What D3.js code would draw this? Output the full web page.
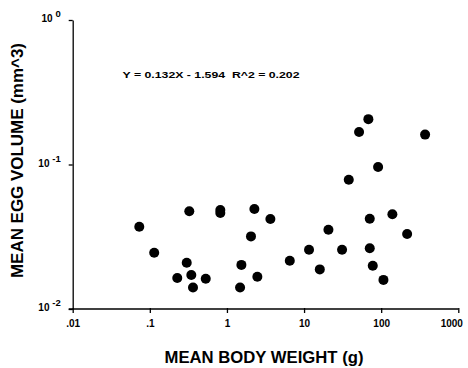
<!DOCTYPE html>
<head>
  <meta charset="utf-8">
  <script src="https://d3js.org/d3.v7.min.js"></script>
  <style>
    body { margin:0; background-color:#fff; }
    svg { display:block; }
    text { font-family: "Liberation Sans", Arial, Helvetica, sans-serif; font-weight:bold; fill:#000; }
    .axis path, .axis line { stroke:#000; stroke-width:1.3px; }
  </style>
</head>
<body>
<div class="chart-container"></div>
<script>
// data: body weight (g) vs egg volume (mm^3)
var bodyWeight = [0.073, 0.114, 0.325, 0.301, 0.227, 0.345, 0.531, 0.363, 0.821, 0.821,
  2.27, 3.66, 2.05, 1.54, 2.48, 1.48, 68.2, 51.7, 371, 91.2,
  38.0, 71.1, 139.7, 20.7, 217, 11.6, 31.1, 71.1, 6.53, 16.0, 77.8, 107];
var eggVolume = [0.0371, 0.0245, 0.0475, 0.0209, 0.0164, 0.0172, 0.0162, 0.0141, 0.0484, 0.0462,
  0.0492, 0.0420, 0.0318, 0.0202, 0.0167, 0.0141, 0.206, 0.168, 0.161, 0.0961,
  0.0785, 0.0421, 0.0452, 0.0354, 0.0330, 0.0257, 0.0257, 0.0263, 0.0216, 0.0188, 0.0199, 0.0159];
var xTicks = [0.01, 0.1, 1, 10, 100, 1000];
var xTickLabels = [".01", ".1", "1", "10", "100", "1000"];
var yTicks = [0.01, 0.1, 1];
var yTickExp = ["-2", "-1", "0"];
var equation = "Y = 0.132X - 1.594\u00a0\u00a0R^2 = 0.202";

var W = 468, H = 368;
var svg = d3.select(".chart-container").append("svg")
  .attr("width", W)
  .attr("height", H);

var x = d3.scaleLog().domain([0.01, 1000]).range([72.7, 458.3]);
var y = d3.scaleLog().domain([0.01, 1]).range([309, 20]);

var xAxis = d3.axisBottom(x)
  .tickValues(xTicks)
  .tickSizeInner(4)
  .tickSizeOuter(0)
  .tickFormat(function(d, i) { return xTickLabels[i]; });

var gx = svg.append("g")
  .attr("class", "axis")
  .attr("transform", "translate(0," + y(0.01) + ")")
  .call(xAxis);
gx.select(".domain").attr("d", "M" + (x(0.01) - 4) + ",0H" + x(1000));
gx.selectAll(".tick line").attr("y1", -1);
gx.selectAll(".tick text")
  .attr("y", 11)
  .attr("dy", "0.71em")
  .attr("dx", function(d, i) { return i == xTicks.length - 1 ? -7 : 0; })
  .style("font-size", "10px")
  .style("font-family", "Liberation Sans, Arial, sans-serif")
  .style("font-weight", "bold");

var yAxis = d3.axisLeft(y)
  .tickValues(yTicks)
  .tickSizeInner(4)
  .tickSizeOuter(0)
  .tickFormat("");

var gy = svg.append("g")
  .attr("class", "axis")
  .attr("transform", "translate(" + x(0.01) + ",0)")
  .call(yAxis);

gy.selectAll(".tick").each(function(d, i) {
  var t = d3.select(this).append("text")
    .attr("x", -12)
    .attr("y", -2)
    .attr("dy", "0.35em")
    .attr("text-anchor", "end")
    .style("font-size", "10px");
  t.append("tspan").text("10\u00a0");
  t.append("tspan")
    .attr("dy", "-0.5em")
    .style("font-size", "9.5px")
    .text(yTickExp[i]);
});

// points
svg.append("g").selectAll("circle")
  .data(bodyWeight)
  .enter().append("circle")
  .attr("cx", function(d) { return x(d); })
  .attr("cy", function(d, i) { return y(eggVolume[i]); })
  .attr("r", 5)
  .attr("fill", "#000");

// regression text
svg.append("text")
  .attr("x", 122.5)
  .attr("y", 78.3)
  .attr("textLength", 177)
  .attr("lengthAdjust", "spacingAndGlyphs")
  .style("font-size", "9.5px")
  .text(equation);

// axis titles
svg.append("text")
  .attr("x", 264)
  .attr("y", 362.5)
  .attr("text-anchor", "middle")
  .attr("textLength", 199)
  .attr("lengthAdjust", "spacingAndGlyphs")
  .style("font-size", "16.3px")
  .text("MEAN BODY WEIGHT (g)");

svg.append("text")
  .attr("transform", "translate(23,160.5) rotate(-90)")
  .attr("text-anchor", "middle")
  .attr("textLength", 235)
  .attr("lengthAdjust", "spacingAndGlyphs")
  .style("font-size", "16.3px")
  .text("MEAN EGG VOLUME (mm^3)");
</script>
</body>
